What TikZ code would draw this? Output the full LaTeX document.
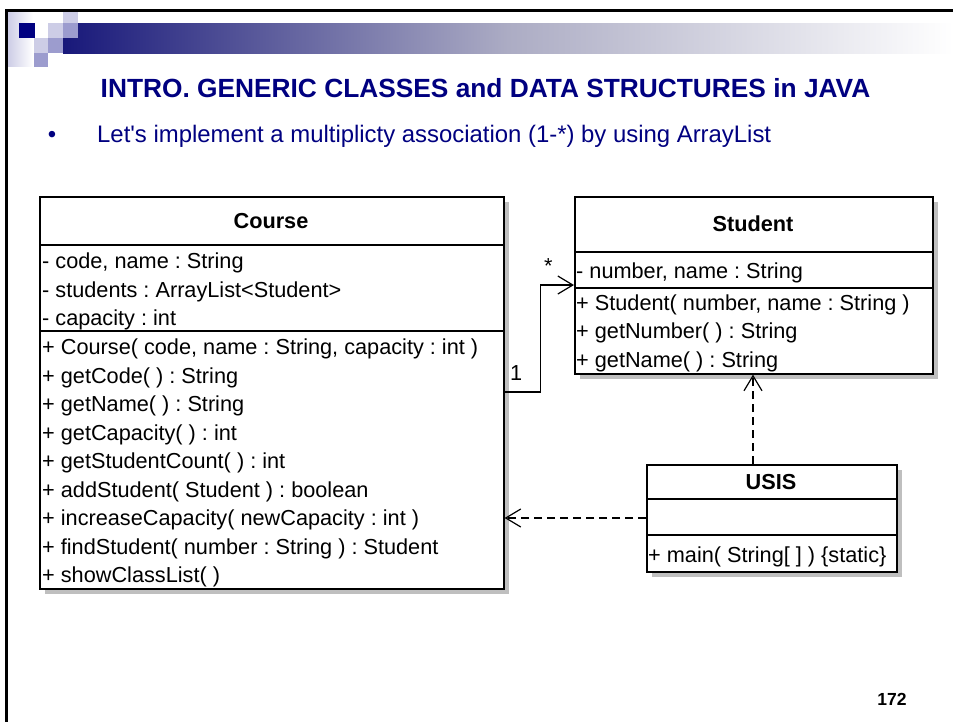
\documentclass[tikz,border=0pt]{standalone}
\usepackage{fontspec}
\setmainfont{Liberation Sans}
\usetikzlibrary{arrows.meta,shadows}
\definecolor{slidenavy}{RGB}{0,0,128}
\definecolor{barnavy}{RGB}{24,24,122}
\definecolor{barmid}{RGB}{172,172,196}
\definecolor{sqlight}{RGB}{205,205,230}
\definecolor{sqmid}{RGB}{156,156,206}
\newcommand{\umlfont}{\fontsize{21.7}{26}\selectfont}
\frenchspacing

\begin{document}
\begin{tikzpicture}[x=1pt,y=-1pt,
	umlbox/.style={draw,line width=1.6pt,fill=white,inner sep=0pt,anchor=north west,
		drop shadow={shadow xshift=5pt,shadow yshift=-5pt,fill=black!25,opacity=1}},
	umlline/.style={line width=1.6pt},
	item/.style={anchor=base west,inner sep=0pt,font=\umlfont},
	cname/.style={inner sep=0pt,font=\umlfont\bfseries},
	assoc/.style={line width=1.6pt,-{Straight Barb[length=15pt,width=18pt,line width=1.2pt]}},
	dep/.style={assoc,dash pattern=on 8pt off 5pt}]
	\useasboundingbox (0,0) rectangle (953,721);
	% slide header
	\shade[left color=sqlight,right color=white] (8,12) rectangle (33,66);
	\shade[left color=barnavy,right color=white,middle color=barmid] (63,23) rectangle (953,53);
	\fill[slidenavy] (19,23) rectangle (35,38);
	\fill[sqlight] (48,23) rectangle (63,38);
	\fill[sqlight] (63,12) rectangle (78,23);
	\fill[sqmid] (63,23) rectangle (78,38);
	\fill[sqlight] (34,38) rectangle (48,53);
	\fill[sqmid] (48,38) rectangle (63,53);
	\fill[sqmid] (34,53) rectangle (48,67);
	\draw[line width=3.3pt] (954,10.5) -- (6.5,10.5) -- (6.5,722);
	\node[anchor=base,inner sep=0pt,text=slidenavy,font=\fontsize{26.3}{30}\selectfont\bfseries] (title) at (485.5,97) {INTRO. GENERIC CLASSES and DATA STRUCTURES in JAVA};
	\node[anchor=base,inner sep=0pt,text=slidenavy,font=\fontsize{23.9}{28}\selectfont] (dot) at (52,142) {•};
	\node[anchor=base west,inner sep=0pt,text=slidenavy,font=\fontsize{23.9}{28}\selectfont] (bullet) at (97,142) {Let\textquotesingle s implement a multiplicty association (1-*) by using ArrayList};
	\node[anchor=base,inner sep=0pt,font=\fontsize{17.5}{20}\selectfont\bfseries] (page) at (892,705) {172};
	%
	\node[umlbox,minimum width=464pt,minimum height=392pt] (course) at (39,196) {};
	\node[umlbox,minimum width=358pt,minimum height=177pt] (student) at (574,196) {};
	\node[umlbox,minimum width=250pt,minimum height=107pt] (usis) at (646,464) {};
	\draw[umlline] (course.west |- 0,245) -- (course.east |- 0,245);
	\draw[umlline] (course.west |- 0,331) -- (course.east |- 0,331);
	\draw[umlline] (student.west |- 0,252) -- (student.east |- 0,252);
	\draw[umlline] (student.west |- 0,288) -- (student.east |- 0,288);
	\draw[umlline] (usis.west |- 0,499) -- (usis.east |- 0,499);
	\draw[umlline] (usis.west |- 0,535) -- (usis.east |- 0,535);
	%
	\node[cname] (coursename) at (271,221) {Course};
	\node[item] (c1) at (42,268.5) {- code, name : String};
	\node[item] (c2) at (42,297) {- students : ArrayList<Student>};
	\node[item] (c3) at (42,325.5) {- capacity : int};
	\node[item] (c4) at (42,354.5) {+ Course( code, name : String, capacity : int )};
	\node[item] (c5) at (42,383) {+ getCode( ) : String};
	\node[item] (c6) at (42,411.5) {+ getName( ) : String};
	\node[item] (c7) at (42,440) {+ getCapacity( ) : int};
	\node[item] (c8) at (42,468.5) {+ getStudentCount( ) : int};
	\node[item] (c9) at (42,497) {+ addStudent( Student ) : boolean};
	\node[item] (c10) at (42,525.5) {+ increaseCapacity( newCapacity : int )};
	\node[item] (c11) at (42,554) {+ findStudent( number : String ) : Student};
	\node[item] (c12) at (42,582.5) {+ showClassList( )};
	%
	\node[cname] (studentname) at (753,224) {Student};
	\node[item] (s1) at (576,278) {- number, name : String};
	\node[item] (s2) at (576,310) {+ Student( number, name : String )};
	\node[item] (s3) at (576,338.5) {+ getNumber( ) : String};
	\node[item] (s4) at (576,367) {+ getName( ) : String};
	%
	\node[cname] (usisname) at (771,482) {USIS};
	\node[item] (u1) at (648,562) {+ main( String[ ] ) \{static\}};
	%
	\draw[assoc] (course.east |- 0,392) -- ++(36,0) |- (student.west |- 0,285);
	\node[item] (one) at (510,380.5) {1};
	\node[item] (many) at (544,273) {*};
	\draw[dep] (usis.north -| 753,0) -- (student.south -| 753,0);
	\draw[dep] (usis.west |- 0,518) -- (course.east |- 0,518);
\end{tikzpicture}
\end{document}
